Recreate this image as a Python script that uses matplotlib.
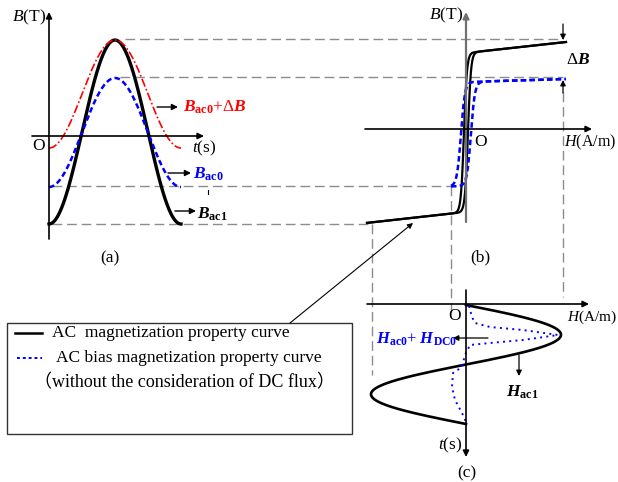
import numpy as np
import matplotlib
matplotlib.use('Agg')
import matplotlib.pyplot as plt
from matplotlib.patches import Rectangle

plt.rcParams['font.family'] = ['Liberation Serif', 'Noto Sans CJK SC']
plt.rcParams['mathtext.fontset'] = 'custom'
plt.rcParams['mathtext.rm'] = 'Liberation Serif'
plt.rcParams['mathtext.it'] = 'Liberation Serif:italic'
plt.rcParams['mathtext.bf'] = 'Liberation Serif:bold'
plt.rcParams['mathtext.bfit'] = 'Liberation Serif:italic:bold'

# everything is laid out in picture pixels (y grows downwards)

# (a) B(t) waveforms: levels
wave_names = ['B_ac1', 'B_ac0', 'B_ac0+dB']
wave_top = [40, 78, 40]
wave_bottom = [224, 187, 148]
wave_t0 = 49
wave_period = 132

# (b) B(H) loops: centre, saturation, slope, coercive shift, knee width, H span
loop_names = ['AC', 'AC bias']
loop_b0 = [131, 132.5]
loop_sat_up = [78, 50.5]
loop_sat_dn = [81, 53.5]
loop_slope = [0.11, 0.03]
loop_hc = [2, 5]
loop_knee = [3, 4]
loop_h_start = [367, 451]
loop_h_end = [566, 566]
h_origin = 466

# (c) H(t): black sine and blue dotted curve read point by point
hac1_t0 = 305
hac1_period = 119
hac1_amp = 95
hbias_h = [469, 472, 475, 490, 523, 558, 523, 490, 470, 465, 462, 453, 452, 455, 462, 467]
hbias_t = [306, 317, 323, 327, 330, 335, 340, 343, 345, 355, 367, 373, 387, 400, 413, 424]

# dashed guide levels
guide_y = [39, 77, 186, 224]
guide_x0 = [125, 120, 52, 52]
guide_x1 = [563, 563, 451, 370]
vguide_x = [372, 451, 563]
vguide_y0 = [224, 186, 92]
vguide_y1 = [375, 312, 297]

fig = plt.figure(figsize=(6.18, 4.82), dpi=100)
ax = fig.add_axes([0, 0, 1, 1])
ax.set_xlim(0, 618)
ax.set_ylim(482, 0)
ax.axis('off')

GRAY = '#8c8c8c'
FS = 12.5


def arrow(x0, y0, x1, y1, color='black', lw=1.0, ms=9):
    ax.annotate('', xy=(x1, y1), xytext=(x0, y0),
                arrowprops=dict(arrowstyle='-|>', color=color, lw=lw,
                                mutation_scale=ms, shrinkA=0, shrinkB=0))


# guide lines
for y, x0, x1 in zip(guide_y, guide_x0, guide_x1):
    ax.plot([x0, x1], [y, y], color=GRAY, lw=1, dashes=(7, 3.5))
for x, y0, y1 in zip(vguide_x, vguide_y0, vguide_y1):
    ax.plot([x, x], [y0, y1], color=GRAY, lw=1, dashes=(7, 3.5))

# ---- (a)
arrow(49, 239, 49, 12, lw=1.2)
arrow(32, 136, 204, 136, lw=1.2)
ax.text(46, 17, '$B$(T)', ha='right', va='center', fontsize=FS)
ax.text(39, 146, 'O', ha='center', va='center', fontsize=FS)
ax.text(192, 148, '$t$(s)', ha='left', va='center', fontsize=FS)
ax.text(110, 258, '(a)', ha='center', va='center', fontsize=FS)

t = np.linspace(wave_t0, wave_t0 + wave_period, 200)
wave_style = [dict(color='black', lw=2.4),
              dict(color='blue', lw=1.8, dashes=(2.2, 1.3)),
              dict(color='red', lw=1.2, dashes=(5, 1.5, 1, 1.5))]
for top, bot, st in zip(wave_top, wave_bottom, wave_style):
    mid = (top + bot) / 2
    amp = (bot - top) / 2
    ax.plot(t, mid + amp * np.cos(2 * np.pi * (t - wave_t0) / wave_period), **st)

arrow(157, 107, 178, 107)
ax.text(183, 107, r'$\mathbfit{B}_{\mathbf{ac0}}$+$\Delta\mathbfit{B}$', color='red',
        ha='left', va='center', fontsize=FS)
arrow(168, 173, 191, 173)
ax.text(193, 174, r'$\mathbfit{B}_{\mathbf{ac0}}$', color='blue',
        ha='left', va='center', fontsize=FS)
arrow(175, 211, 196, 211)
ax.text(197, 214, r'$\mathbfit{B}_{\mathbf{ac1}}$', color='black',
        ha='left', va='center', fontsize=FS)
ax.plot([208, 208], [190, 194], color='black', lw=0.8)

# ---- (b)
arrow(466, 222, 466, 12, color='#707070', lw=1.6)
arrow(365, 129, 592, 129, lw=1.2)
ax.text(463, 15, '$B$(T)', ha='right', va='center', fontsize=FS)
ax.text(481, 142, 'O', ha='center', va='center', fontsize=FS)
ax.text(616, 142, '$H$(A/m)', ha='right', va='center', fontsize=11.5)
ax.text(480, 257, '(b)', ha='center', va='center', fontsize=FS)


def branch(h, i, sign):
    arg = (h - h_origin - sign * loop_hc[i]) / loop_knee[i]
    th = np.tanh(arg)
    sat = np.where(th > 0, loop_sat_up[i], loop_sat_dn[i])
    return loop_b0[i] - sat * th - loop_slope[i] * (h - h_origin)


loop_style = [dict(color='black', lw=1.6),
              dict(color='blue', lw=1.8, dashes=(2.2, 1.3))]
for i in range(len(loop_names)):
    h = np.linspace(loop_h_start[i], loop_h_end[i], 800)
    for sign in (1, -1):
        ax.plot(h, branch(h, i, sign), **loop_style[i])

arrow(563, 24, 563, 40, lw=0.9, ms=8)
arrow(563, 93, 563, 80, lw=0.9, ms=8)
ax.text(566, 60, r'$\Delta\mathbfit{B}$', ha='left', va='center', fontsize=FS)

# ---- (c)
arrow(367, 304, 589, 304, lw=1.2)
arrow(466, 290, 466, 457, lw=1.2)
ax.text(455, 316, 'O', ha='center', va='center', fontsize=FS)
ax.text(617, 317, '$H$(A/m)', ha='right', va='center', fontsize=11)
ax.text(462, 445, '$t$(s)', ha='right', va='center', fontsize=FS)
ax.text(467, 473, '(c)', ha='center', va='center', fontsize=FS)

tc = np.linspace(hac1_t0, hac1_t0 + hac1_period, 300)
ax.plot(h_origin + hac1_amp * np.sin(2 * np.pi * (tc - hac1_t0) / hac1_period), tc,
        color='black', lw=1.9)
ax.plot(hbias_h, hbias_t, color='blue', lw=1.4, dashes=(1, 2.2))

arrow(488, 338, 453, 338, lw=0.9, ms=8)
ax.text(376, 339, r'$\mathbfit{H}_{\mathbf{ac0}}$+ $\mathbfit{H}_{\mathbf{DC0}}$', color='blue',
        ha='left', va='center', fontsize=12)
arrow(519, 355, 519, 376, lw=0.9, ms=8)
ax.text(506, 392, r'$\mathbfit{H}_{\mathbf{ac1}}$', ha='left', va='center', fontsize=FS)

# ---- legend box
ax.add_patch(Rectangle((7, 323), 345, 111, fill=False, edgecolor='#333333', lw=1))
ax.plot([15, 42], [333, 333], color='black', lw=1.8)
ax.text(52, 333, 'AC  magnetization property curve', ha='left', va='center', fontsize=FS)
ax.plot([17, 42], [358, 358], color='blue', lw=1.4, dashes=(1.5, 1.5))
ax.text(56, 358, 'AC bias magnetization property curve', ha='left', va='center', fontsize=FS)
ax.text(34, 383, '（without the consideration of DC flux）', ha='left', va='center', fontsize=13)

# pointer from legend to the loop
arrow(290, 323, 413, 223, lw=0.8, ms=8)

fig.savefig('out.png', dpi=100)
